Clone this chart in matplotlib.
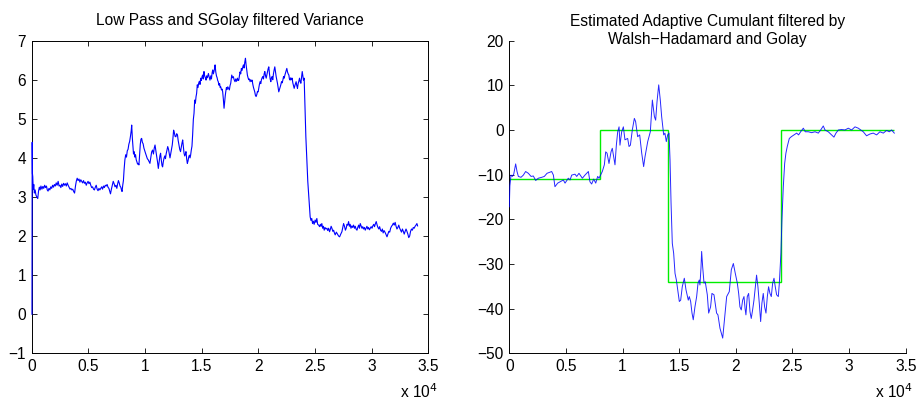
import numpy as np
import matplotlib
matplotlib.use("Agg")
from matplotlib import pyplot as plt

plt.rcParams['font.family'] = ['Liberation Sans', 'DejaVu Sans']

# Left panel: filtered variance (x in units of 1e4 samples)
var_x = [0.002, 0.004, 0.006, 0.009, 0.013, 0.018, 0.023, 0.030, 0.037, 0.045, 0.053, 0.060, 0.067, 0.074, 0.081,
         0.090, 0.098, 0.106, 0.114, 0.122, 0.130, 0.137, 0.144, 0.152, 0.160, 0.168, 0.176, 0.184, 0.192, 0.200,
         0.208, 0.216, 0.224, 0.233, 0.241, 0.249, 0.257, 0.265, 0.273, 0.281, 0.289, 0.297, 0.305, 0.313, 0.321,
         0.330, 0.338, 0.346, 0.354, 0.362, 0.370, 0.378, 0.386, 0.393, 0.401, 0.409, 0.417, 0.425, 0.433, 0.441,
         0.449, 0.457, 0.465, 0.473, 0.481, 0.489, 0.497, 0.505, 0.513, 0.521, 0.529, 0.537, 0.545, 0.553, 0.561,
         0.569, 0.577, 0.585, 0.593, 0.601, 0.609, 0.617, 0.625, 0.633, 0.641, 0.649, 0.657, 0.665, 0.673, 0.681,
         0.689, 0.695, 0.703, 0.711, 0.719, 0.727, 0.735, 0.743, 0.751, 0.759, 0.765, 0.772, 0.779, 0.786, 0.792,
         0.797, 0.803, 0.809, 0.815, 0.822, 0.829, 0.836, 0.843, 0.850, 0.857, 0.864, 0.871, 0.878, 0.882, 0.888,
         0.893, 0.898, 0.903, 0.910, 0.916, 0.922, 0.928, 0.934, 0.940, 0.946, 0.952, 0.958, 0.964, 0.970, 0.976,
         0.983, 0.990, 0.997, 1.004, 1.012, 1.020, 1.028, 1.036, 1.043, 1.050, 1.058, 1.066, 1.074, 1.081, 1.088,
         1.095, 1.102, 1.110, 1.117, 1.124, 1.131, 1.137, 1.143, 1.150, 1.155, 1.161, 1.167, 1.174, 1.180, 1.186,
         1.193, 1.200, 1.207, 1.214, 1.220, 1.227, 1.234, 1.240, 1.246, 1.252, 1.258, 1.265, 1.272, 1.279, 1.286,
         1.292, 1.299, 1.306, 1.313, 1.320, 1.326, 1.332, 1.338, 1.344, 1.350, 1.356, 1.361, 1.367, 1.373, 1.379,
         1.385, 1.391, 1.397, 1.402, 1.408, 1.414, 1.420, 1.426, 1.432,
         1.438, 1.444, 1.450, 1.455, 1.461, 1.467, 1.473, 1.479, 1.485, 1.491, 1.497, 1.503, 1.508, 1.514, 1.520,
         1.526, 1.532, 1.538, 1.544, 1.550, 1.559, 1.565, 1.573, 1.580, 1.586, 1.592, 1.597, 1.603, 1.609, 1.614,
         1.618, 1.624, 1.630, 1.636, 1.641, 1.646, 1.652, 1.658, 1.663, 1.668, 1.674, 1.680, 1.685, 1.691, 1.697,
         1.703, 1.708, 1.712, 1.718, 1.724, 1.730, 1.737, 1.744, 1.750, 1.756, 1.760, 1.765, 1.772, 1.779, 1.786,
         1.794, 1.800, 1.807, 1.815, 1.821, 1.827, 1.833, 1.838, 1.844, 1.850, 1.856, 1.862, 1.868, 1.874, 1.880,
         1.886, 1.891, 1.897, 1.903, 1.909, 1.915, 1.921, 1.927, 1.933, 1.939, 1.945, 1.951, 1.957, 1.963, 1.968,
         1.974, 1.980, 1.986, 1.992, 1.998, 2.004, 2.009, 2.015, 2.021, 2.027, 2.033, 2.039, 2.045, 2.051, 2.057,
         2.063, 2.069, 2.075, 2.081, 2.086, 2.092, 2.098, 2.104, 2.110, 2.115, 2.121, 2.127, 2.133, 2.139, 2.145,
         2.151, 2.157, 2.163, 2.169, 2.174, 2.180, 2.186, 2.192, 2.198, 2.204, 2.210, 2.216, 2.222, 2.228, 2.234,
         2.240, 2.245, 2.251, 2.257, 2.263, 2.269, 2.274, 2.280, 2.286, 2.292, 2.298, 2.304, 2.310, 2.316, 2.322,
         2.328, 2.333, 2.339, 2.345, 2.351, 2.357, 2.363, 2.369, 2.375, 2.381, 2.387, 2.393, 2.398, 2.404, 2.410,
         2.419, 2.428, 2.436, 2.443, 2.450, 2.457, 2.464, 2.471, 2.478, 2.485, 2.492, 2.501, 2.508, 2.516, 2.523,
         2.532, 2.540, 2.547, 2.553, 2.560, 2.567, 2.574, 2.581, 2.588, 2.596, 2.605, 2.612, 2.620, 2.628, 2.636,
         2.642, 2.649, 2.657, 2.664, 2.671, 2.678, 2.688, 2.698, 2.708, 2.717, 2.727, 2.737, 2.745, 2.752, 2.760,
         2.768, 2.775, 2.782, 2.789, 2.796, 2.803, 2.810, 2.817, 2.825, 2.832, 2.840, 2.848, 2.855, 2.862, 2.870,
         2.877, 2.885, 2.892, 2.899, 2.906, 2.914, 2.921, 2.928, 2.936, 2.943, 2.950, 2.958, 2.965, 2.972, 2.980,
         2.988, 2.995, 3.003, 3.010, 3.018, 3.025, 3.033, 3.040, 3.048, 3.055, 3.063, 3.070, 3.078, 3.086, 3.094,
         3.101, 3.109, 3.117, 3.125, 3.135, 3.143, 3.151, 3.159, 3.167, 3.175, 3.183, 3.191, 3.199, 3.207, 3.215,
         3.223, 3.231, 3.239, 3.247, 3.255, 3.263, 3.271, 3.279, 3.287, 3.295, 3.303, 3.311, 3.319, 3.327, 3.335,
         3.343, 3.351, 3.359, 3.367, 3.375, 3.383, 3.391, 3.399, 3.405]
var_y = [0.00, 4.40, 3.60, 3.52, 3.20, 3.32, 3.10, 3.18, 3.05, 3.00, 2.96, 3.15, 3.25, 3.18, 3.28,
         3.20, 3.27, 3.22, 3.30, 3.24, 3.28, 3.18, 3.15, 3.22, 3.18, 3.26, 3.22, 3.30, 3.25, 3.32,
         3.28, 3.36, 3.30, 3.40, 3.28, 3.30, 3.24, 3.33, 3.27, 3.35, 3.30, 3.34, 3.28, 3.36, 3.30,
         3.25, 3.20, 3.22, 3.18, 3.20, 3.14, 3.10, 3.28, 3.40, 3.48, 3.42, 3.46, 3.38, 3.44, 3.40,
         3.36, 3.42, 3.35, 3.38, 3.30, 3.36, 3.40, 3.34, 3.38, 3.30, 3.24, 3.26, 3.20, 3.18, 3.25,
         3.30, 3.20, 3.16, 3.22, 3.18, 3.22, 3.26, 3.20, 3.28, 3.24, 3.30, 3.28, 3.32, 3.25, 3.22,
         3.14, 3.08, 3.20, 3.30, 3.40, 3.34, 3.26, 3.30, 3.22, 3.35, 3.42, 3.36, 3.28, 3.25, 3.18,
         3.14, 3.30, 3.42, 3.70, 3.95, 4.08, 4.02, 4.18, 4.22, 4.35, 4.42, 4.55, 4.70, 4.84, 4.50,
         4.30, 4.10, 4.16, 4.02, 4.08, 3.95, 3.90, 3.84, 3.86, 3.82, 4.10, 4.35, 4.48, 4.50, 4.40,
         4.36, 4.25, 4.18, 4.12, 4.05, 3.98, 3.95, 3.90, 3.86, 4.00, 4.15, 4.20, 4.10, 4.25, 4.33,
         4.18, 4.05, 3.90, 3.73, 3.90, 4.05, 4.12, 3.95, 3.80, 3.77, 3.90, 3.99, 4.05, 3.98, 4.10,
         4.20, 4.29, 4.22, 4.10, 4.00, 4.12, 4.25, 4.33, 4.50, 4.71, 4.65, 4.55, 4.54, 4.62, 4.59,
         4.45, 4.33, 4.22, 4.16, 4.28, 4.38, 4.46, 4.30, 4.12, 4.05, 4.10, 4.16, 3.98, 3.86, 3.92,
         4.02, 4.07, 4.00, 4.07, 4.20, 4.30, 4.60, 4.98, 5.14,
         5.48, 5.40, 5.57, 5.65, 5.87, 5.80, 5.91, 5.96, 5.88, 6.04, 5.98, 6.08, 6.12, 6.02, 6.21,
         6.10, 6.05, 5.99, 6.10, 6.05, 6.16, 6.08, 5.99, 6.10, 6.02, 6.18, 6.25, 6.15, 6.22, 6.30,
         6.38, 6.20, 6.10, 6.05, 5.98, 5.95, 5.86, 5.90, 5.80, 5.82, 5.74, 5.76, 5.69, 5.50, 5.27,
         5.45, 5.60, 5.69, 5.80, 5.75, 5.82, 5.78, 5.74, 5.85, 5.91, 6.00, 6.12, 6.05, 6.08, 6.00,
         5.95, 6.02, 5.96, 6.04, 5.98, 5.99, 6.10, 6.20, 6.15, 6.29, 6.24, 6.32, 6.38, 6.30, 6.45,
         6.55, 6.40, 6.25, 6.12, 6.05, 6.00, 6.02, 5.95, 6.00, 5.96, 5.99, 5.88, 5.80, 5.74, 5.69,
         5.60, 5.57, 5.62, 5.70, 5.69, 5.80, 5.88, 5.95, 5.90, 6.00, 6.05, 6.08, 6.02, 6.15, 6.21,
         6.10, 6.04, 6.12, 6.20, 6.28, 6.33, 6.15, 6.02, 5.95, 6.05, 6.08, 6.00, 6.15, 6.25, 6.33,
         6.20, 6.08, 5.99, 5.90, 5.80, 5.69, 5.75, 5.82, 5.87, 5.95, 5.92, 5.99, 6.08, 6.04, 6.12,
         6.18, 6.22, 6.29, 6.20, 6.15, 6.12, 6.02, 5.99, 6.05, 6.00, 6.04, 5.92, 5.85, 5.78, 5.85,
         5.90, 5.95, 5.85, 5.78, 5.90, 5.96, 6.04, 5.95, 5.91, 6.05, 6.21, 6.08, 5.99, 6.04, 5.40,
         4.54, 3.95, 3.40, 3.09, 2.75, 2.49, 2.40, 2.45, 2.32, 2.38, 2.30, 2.41, 2.35, 2.45, 2.30,
         2.28, 2.24, 2.30, 2.25, 2.32, 2.20, 2.25, 2.15, 2.22, 2.18, 2.20, 2.14, 2.20, 2.11, 2.18,
         2.25, 2.20, 2.12, 2.15, 2.08, 2.03, 2.10, 2.05, 2.00, 1.98, 2.05, 2.11, 2.22, 2.32, 2.25,
         2.15, 2.20, 2.30, 2.28, 2.37, 2.25, 2.30, 2.20, 2.26, 2.22, 2.28, 2.20, 2.25, 2.18, 2.15,
         2.22, 2.28, 2.20, 2.32, 2.26, 2.20, 2.24, 2.18, 2.22, 2.15, 2.20, 2.25, 2.18, 2.22, 2.16,
         2.20, 2.24, 2.20, 2.26, 2.30, 2.24, 2.32, 2.37, 2.28, 2.22, 2.18, 2.24, 2.15, 2.12, 2.18,
         2.08, 2.14, 2.10, 2.05, 1.98, 2.05, 2.12, 2.10, 2.20, 2.25, 2.28, 2.33, 2.28, 2.35, 2.25,
         2.18, 2.22, 2.28, 2.20, 2.15, 2.10, 2.18, 2.12, 2.05, 2.12, 2.18, 2.12, 2.05, 1.96, 2.00,
         2.12, 2.18, 2.15, 2.22, 2.20, 2.25, 2.28, 2.32, 2.26]

# Right panel: adaptive cumulant estimate (blue) and step fit (green)
cum_x = [0.000, 0.005, 0.015, 0.027, 0.039, 0.056, 0.068, 0.080, 0.103, 0.124, 0.144, 0.168, 0.192, 0.212, 0.233,
         0.256, 0.286, 0.309, 0.333, 0.374, 0.389, 0.403, 0.427, 0.448, 0.477, 0.492, 0.521, 0.536, 0.551, 0.580,
         0.595, 0.615, 0.645, 0.668, 0.698, 0.712, 0.727, 0.745, 0.763, 0.780, 0.792, 0.821, 0.839, 0.851, 0.863,
         0.880, 0.898, 0.909, 0.933, 0.945, 0.957, 0.969, 0.977, 0.992, 1.007, 1.021, 1.045, 1.057, 1.069, 1.086,
         1.104, 1.115, 1.133, 1.151, 1.169, 1.186, 1.198, 1.222, 1.233, 1.245, 1.263, 1.281, 1.292, 1.304, 1.319,
         1.333, 1.345, 1.363, 1.374, 1.386, 1.398, 1.410, 1.419, 1.428, 1.439, 1.451, 1.463, 1.475, 1.483, 1.501,
         1.513, 1.527, 1.545, 1.560, 1.580, 1.589, 1.601, 1.613, 1.624, 1.639, 1.654, 1.666, 1.677, 1.683, 1.692,
         1.698, 1.707, 1.719, 1.730, 1.748, 1.760, 1.777, 1.789, 1.807, 1.830, 1.842, 1.860, 1.884, 1.895, 1.907,
         1.919, 1.933, 1.942, 1.960, 1.978, 1.995, 2.013, 2.025, 2.036, 2.048, 2.060, 2.072, 2.081, 2.089, 2.101,
         2.113, 2.125, 2.136, 2.148, 2.160, 2.172, 2.183, 2.195, 2.207, 2.219, 2.230, 2.242, 2.254, 2.266, 2.278,
         2.289, 2.301, 2.313, 2.325, 2.337, 2.348, 2.360, 2.375, 2.384, 2.398, 2.407, 2.419, 2.431, 2.442, 2.454,
         2.472, 2.490, 2.513, 2.537, 2.554, 2.572, 2.584, 2.596, 2.613, 2.640, 2.669, 2.699, 2.728, 2.749, 2.772,
         2.787, 2.816, 2.846, 2.866, 2.884, 2.905, 2.934, 2.963, 2.993, 3.022, 3.052, 3.081, 3.125, 3.154, 3.184,
         3.213, 3.243, 3.272, 3.302, 3.331, 3.355, 3.375, 3.399]
cum_y = [-17.2, -12.5, -10.1, -10.4, -9.9, -7.6, -9.3, -10.4, -10.6, -10.1, -9.3, -9.7, -10.4, -10.3, -11.3,
         -10.8, -10.6, -10.4, -9.7, -9.3, -10.1, -12.7, -11.9, -11.6, -11.2, -11.9, -10.8, -11.2, -10.1, -9.9,
         -10.4, -9.7, -10.8, -10.1, -9.3, -11.6, -12.1, -11.0, -11.9, -10.4, -10.8, -9.3, -7.8, -4.9, -5.2,
         -7.5, -4.9, -4.1, -7.8, -3.4, -0.4, 0.7, -3.4, -0.4, 0.7, -2.2, -1.9, -3.7, -3.4, 0.0,
         2.6, 1.9, -1.5, -1.1, -5.2, -8.2, -6.0, -2.6, -1.5, -0.4, 6.7, 3.0, 2.2, 6.3, 10.1,
         6.7, 3.0, -1.1, -0.7, -2.6, -1.1, -0.7, -6.7, -16.4, -25.4, -27.6, -32.1, -33.6, -35.1, -38.4,
         -38.1, -35.1, -33.2, -35.8, -38.1, -37.3, -38.4, -41.0, -42.5, -39.6, -37.3, -34.3, -33.6, -34.7, -31.0,
         -27.2, -30.6, -34.3, -34.0, -36.9, -41.0, -39.6, -36.6, -36.9, -41.0, -41.4, -44.4, -46.6, -43.7, -40.3,
         -37.3, -36.6, -36.2, -31.3, -29.9, -32.1, -34.3, -36.6, -39.6, -40.3, -38.1, -37.3, -39.9, -41.4, -37.3,
         -36.6, -40.7, -42.2, -40.3, -38.1, -35.1, -32.5, -35.1, -38.8, -42.9, -38.8, -36.6, -39.6, -41.0, -37.3,
         -35.1, -36.6, -37.3, -34.3, -33.2, -35.1, -36.9, -37.3, -34.3, -27.6, -20.1, -12.7, -7.5, -5.2, -3.7,
         -1.9, -1.5, -1.1, -0.7, -1.1, -0.4, 0.0, 0.4, -0.4, -0.4, -0.6, -0.4, -0.7, 0.0, 0.9,
         0.0, -0.4, -1.1, -1.6, -0.7, 0.0, 0.1, 0.0, 0.4, 0.0, 0.7, 0.4, -0.4, -1.3, -0.9,
         -0.7, -1.1, -0.4, -0.7, -0.1, -0.4, 0.0, -0.7]

step_edges = [0.0, 0.8, 1.4, 2.4, 3.4]
step_levels = [-11.0, 0.0, -34.1, 0.0]

xtick_vals = [0, 0.5, 1, 1.5, 2, 2.5, 3, 3.5]
xtick_labels = ['0', '0.5', '1', '1.5', '2', '2.5', '3', '3.5']

fs = 11.2

fig = plt.figure(figsize=(9.2, 4.01), dpi=100)
ax1 = fig.add_axes([0.0345, 0.119, 0.4311, 0.7796])
ax2 = fig.add_axes([0.5536, 0.119, 0.4309, 0.7796])

# data drawn over the spines, like the original
ax1.plot(np.array(var_x) * 1e4, var_y, color='#0000ff', lw=0.8, zorder=3, clip_on=False)
ax1.set_ylim(-1, 7)
ax1.set_yticks(range(-1, 8))
ax1.tick_params(direction='in', top=True, right=True, length=3.5, width=0.6, labelsize=fs, pad=4)
ax1.set_title('Low Pass and SGolay filtered Variance', fontsize=fs, y=1.063, va='center', pad=0)

ax2.plot(np.array(cum_x) * 1e4, cum_y, color='#0000ff', lw=0.7, alpha=0.85, zorder=3)
ax2.stairs(step_levels, np.array(step_edges) * 1e4, color='#00ee00', lw=1.0, baseline=None)
ax2.set_ylim(-50, 20)
ax2.set_yticks(range(-50, 21, 10))
ax2.spines['top'].set_visible(False)
ax2.spines['right'].set_visible(False)
ax2.tick_params(direction='in', length=3.5, width=0.6, labelsize=fs, pad=4)
ax2.set_title('Estimated Adaptive Cumulant filtered by\nWalsh\u2212Hadamard and Golay',
              fontsize=fs, y=1.033, va='center', linespacing=1.3, pad=0)

for ax, right_edge in ((ax1, 1.023), (ax2, 1.018)):
    ax.set_xlim(0, 35000)
    ax.set_xticks(np.array(xtick_vals) * 1e4)
    ax.set_xticklabels(xtick_labels)
    for s in ax.spines.values():
        s.set_linewidth(0.7)
    ax.text(right_edge, -0.124, r'x 10$^{4}$', transform=ax.transAxes, ha='right', va='center', fontsize=fs)

fig.savefig('out.png', dpi=100)
